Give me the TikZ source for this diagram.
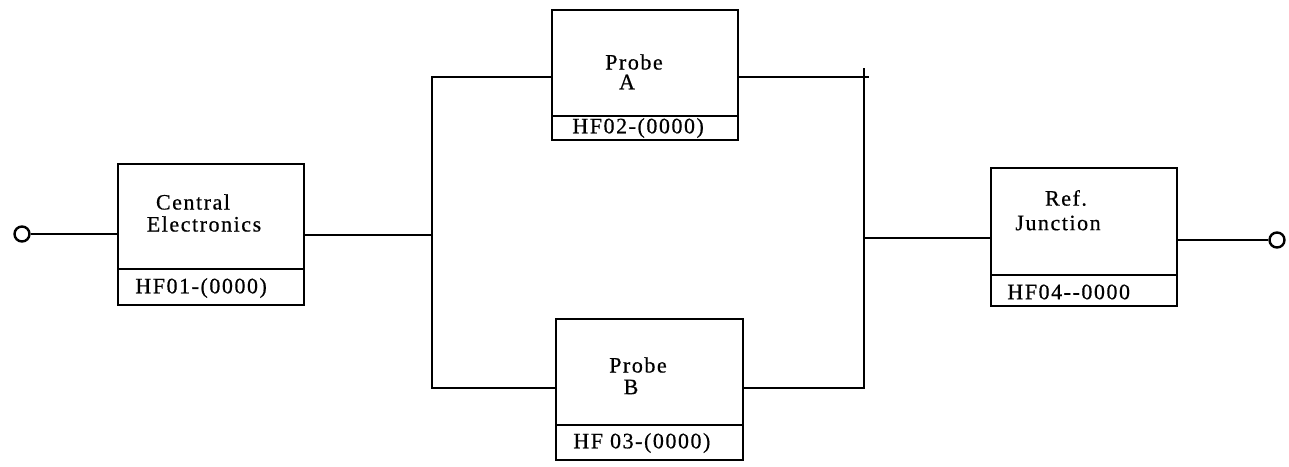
\documentclass[tikz,border=0pt]{standalone}
\usepackage{fontspec}
\setmainfont{Liberation Serif}[LetterSpace=7,FakeBold=0.6]
\usetikzlibrary{fit}
\begin{document}
\begin{tikzpicture}[x=0.5pt,y=-0.5pt,
  boxpart/.style={draw, line width=1.2pt, inner sep=0pt},
  wire/.style={line width=1pt},
  lbl/.style={font=\fontsize{11}{12}\selectfont, inner sep=0pt},
  term/.style={circle, draw, line width=1.2pt, minimum size=7.5pt, inner sep=0pt}]
\useasboundingbox (0,0) rectangle (1289,466);
% boxes
\node[boxpart, fit={(118,164) (304,269)}] (cent) {};
\node[boxpart, fit={(118,269) (304,305)}] (centid) {};
\node[boxpart, fit={(552,10) (738,116)}] (pa) {};
\node[boxpart, fit={(552,116) (738,140)}] (paid) {};
\node[boxpart, fit={(556,319) (743,425)}] (pb) {};
\node[boxpart, fit={(556,425) (743,460)}] (pbid) {};
\node[boxpart, fit={(991,168) (1177,275)}] (ref) {};
\node[boxpart, fit={(991,275) (1177,306)}] (refid) {};
% texts
\node[lbl] (t1) at (193,202) {Central};
\node[lbl] (t2) at (204,224) {Electronics};
\node[lbl, anchor=west] (t3) at (135,288) {HF01-(0000)};
\node[lbl] (t4) at (634,62) {Probe};
\node[lbl] (t5) at (627,82) {A};
\node[lbl, anchor=west] (t6) at (572,128) {HF02-(0000)};
\node[lbl] (t7) at (638,365) {Probe};
\node[lbl] (t8) at (631,387) {B};
\node[lbl, anchor=west] (t9) at (573,443) {HF 03-(0000)};
\node[lbl] (t10) at (1066,198) {Ref.};
\node[lbl] (t11) at (1058,223) {Junction};
\node[lbl, anchor=west] (t12) at (1007,292) {HF04-{}-0000};
% terminals
\node[term] (cin) at (22,234) {};
\node[term] (cout) at (1277,240) {};
% junction coordinates
\coordinate (jl) at (432,235);
\coordinate (jlt) at (432,77);
\coordinate (jlb) at (432,388);
\coordinate (jr) at (864,238);
\coordinate (jrt) at (864,77);
\coordinate (jrtop) at (864,68);
\coordinate (jrtick) at (869,77);
\coordinate (jrb) at (864,388);
% wires
\draw[wire] (cin.east) -- (cin.east -| cent.west);
\draw[wire] (jl -| cent.east) -- (jl);
\draw[wire] (jlt -| pa.west) -- (jlt) -- (jlb) -- (jlb -| pb.west);
\draw[wire] (jrt -| pa.east) -- (jrtick);
\draw[wire] (jrb -| pb.east) -- (jrb) -- (jrtop);
\draw[wire] (jr) -- (jr -| ref.west);
\draw[wire] (cout.west -| ref.east) -- (cout.west);
\end{tikzpicture}
\end{document}
